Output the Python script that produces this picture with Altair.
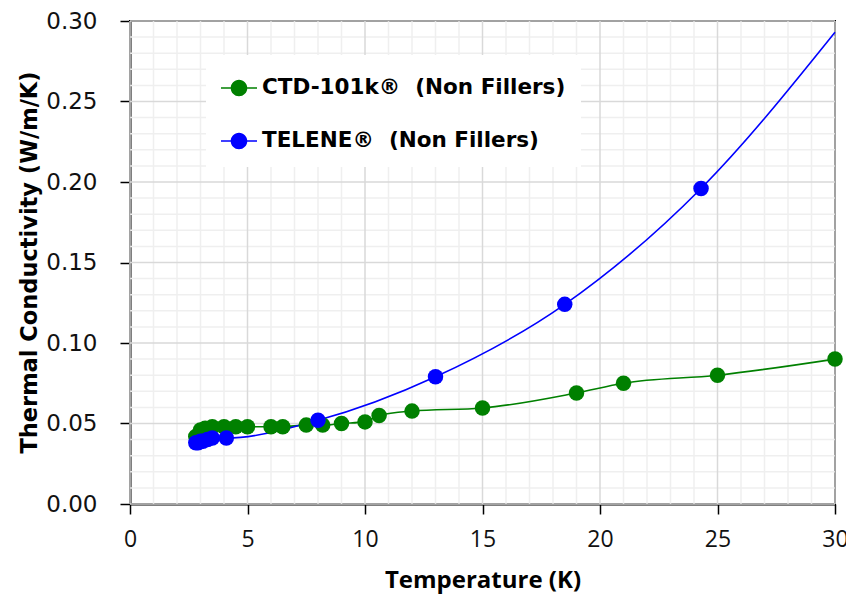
import altair as alt
import pandas as pd

# ---- data ----
ctd_T = [2.8, 3.0, 3.2, 3.5, 4.0, 4.5, 5.0, 6.0, 6.5, 7.5, 8.2, 9.0, 10.0, 10.6, 12.0, 15.0, 19.0, 21.0, 25.0, 30.0]
ctd_k = [0.042, 0.046, 0.047, 0.048, 0.048, 0.048, 0.048, 0.048, 0.048, 0.049, 0.049, 0.050, 0.051, 0.055, 0.0577, 0.0596, 0.069, 0.075, 0.080, 0.090]

tel_T = [2.8, 2.9, 3.0, 3.1, 3.3, 3.5, 4.1, 8.0, 13.0, 18.5, 24.3]
tel_k = [0.038, 0.038, 0.039, 0.039, 0.040, 0.041, 0.041, 0.052, 0.079, 0.124, 0.196]
# smoothed curve continues to the right edge without a marker
tel_curve_T = tel_T + [30.0]
tel_curve_k = tel_k + [0.293]

series_names = ["CTD-101k®\u00a0 (Non Fillers)", "TELENE®\u00a0 (Non Fillers)"]
series_colors = ["#008000", "#0000FF"]

x_major = [0, 5, 10, 15, 20, 25, 30]
x_minor = [v for v in range(1, 30) if v % 5 != 0]
y_major = [0.0, 0.05, 0.10, 0.15, 0.20, 0.25, 0.30]
y_minor = [round(i / 100, 2) for i in range(1, 30) if i % 5 != 0]

pts = pd.DataFrame(
    {"T": ctd_T + tel_T, "k": ctd_k + tel_k,
     "s": [series_names[0]] * len(ctd_T) + [series_names[1]] * len(tel_T)}
)
curve = pd.DataFrame(
    {"T": ctd_T + tel_curve_T, "k": ctd_k + tel_curve_k,
     "s": [series_names[0]] * len(ctd_T) + [series_names[1]] * len(tel_curve_T)}
)

xs = alt.Scale(domain=[0, 30], nice=False, zero=False)
ys = alt.Scale(domain=[0, 0.30], nice=False, zero=False)
cs = alt.Scale(domain=series_names, range=series_colors)

font = "Open Sans"

gx_minor = alt.Chart(pd.DataFrame({"v": x_minor})).mark_rule(color="#efefef", strokeWidth=1.5).encode(
    x=alt.X("v:Q", scale=xs))
gy_minor = alt.Chart(pd.DataFrame({"v": y_minor})).mark_rule(color="#efefef", strokeWidth=1.5).encode(
    y=alt.Y("v:Q", scale=ys))
gx_major = alt.Chart(pd.DataFrame({"v": x_major})).mark_rule(color="#d9d9d9", strokeWidth=1.5).encode(
    x=alt.X("v:Q", scale=xs))
gy_major = alt.Chart(pd.DataFrame({"v": y_major})).mark_rule(color="#d9d9d9", strokeWidth=1.5).encode(
    y=alt.Y("v:Q", scale=ys))

x_enc = alt.X(
    "T:Q", scale=xs,
    axis=alt.Axis(
        title="Temperature (K)", values=x_major, grid=False, format="d",
        domainColor="black", domainWidth=2, tickColor="black", tickWidth=1.5, tickSize=10,
        labelFont=font, labelFontSize=23, labelColor="#111", labelPadding=14,
        labelFlush=False, labelOverlap=False,
        titleFont=font, titleFontSize=24, titleFontWeight="bold", titleColor="black",
        titleY=64, titleBaseline="top",
    ),
)
y_enc = alt.Y(
    "k:Q", scale=ys,
    axis=alt.Axis(
        title="Thermal Conductivity (W/m/K)", values=y_major, grid=False, format=".2f",
        domainColor="black", domainWidth=2, tickColor="black", tickWidth=1.5, tickSize=10,
        labelFont="DejaVu Sans", labelFontSize=23, labelColor="#111", labelPadding=23,
        labelFlush=False, labelOverlap=False,
        titleFont="DejaVu Sans", titleFontSize=22.5, titleFontWeight="bold", titleColor="black",
        titleX=-101, titleY=241, titleBaseline="middle", titleAngle=-90,
    ),
)

# legend symbol: thin filled bar (the line) plus a filled circle
sym_path = ("M-1,-0.045L1,-0.045L1,0.045L-1,0.045Z"
            "M-0.46,0A0.46,0.46,0,1,1,0.46,0A0.46,0.46,0,1,1,-0.46,0Z")
leg = alt.Legend(
    title=None, orient="none", legendX=76, legendY=34,
    fillColor="white", padding=15, symbolType=sym_path, symbolSize=1296,
    symbolStrokeWidth=0, rowPadding=24, labelOffset=5, labelLimit=0,
    labelFont="DejaVu Sans", labelFontSize=21.5, labelFontWeight="bold", labelColor="black",
    symbolOpacity=1,
)

lines = alt.Chart(curve).mark_line(strokeWidth=1.6, interpolate="monotone").encode(
    x=x_enc, y=y_enc, color=alt.Color("s:N", scale=cs, legend=leg), detail="s:N"
)

points = alt.Chart(pts).mark_point(filled=True, size=240, opacity=1).encode(
    x=x_enc, y=y_enc,
    color=alt.Color("s:N", scale=cs, legend=leg),
)

chart = alt.layer(gx_minor, gy_minor, gx_major, gy_major, lines, points).properties(
    width=705, height=483,
    autosize=alt.AutoSizeParams(type="none"),
    padding={"left": 130, "top": 21, "right": 11, "bottom": 96},
    background="white",
).configure_view(stroke="black", strokeWidth=2)

chart.save("out.html", embed_options={"renderer": "svg", "actions": False})
